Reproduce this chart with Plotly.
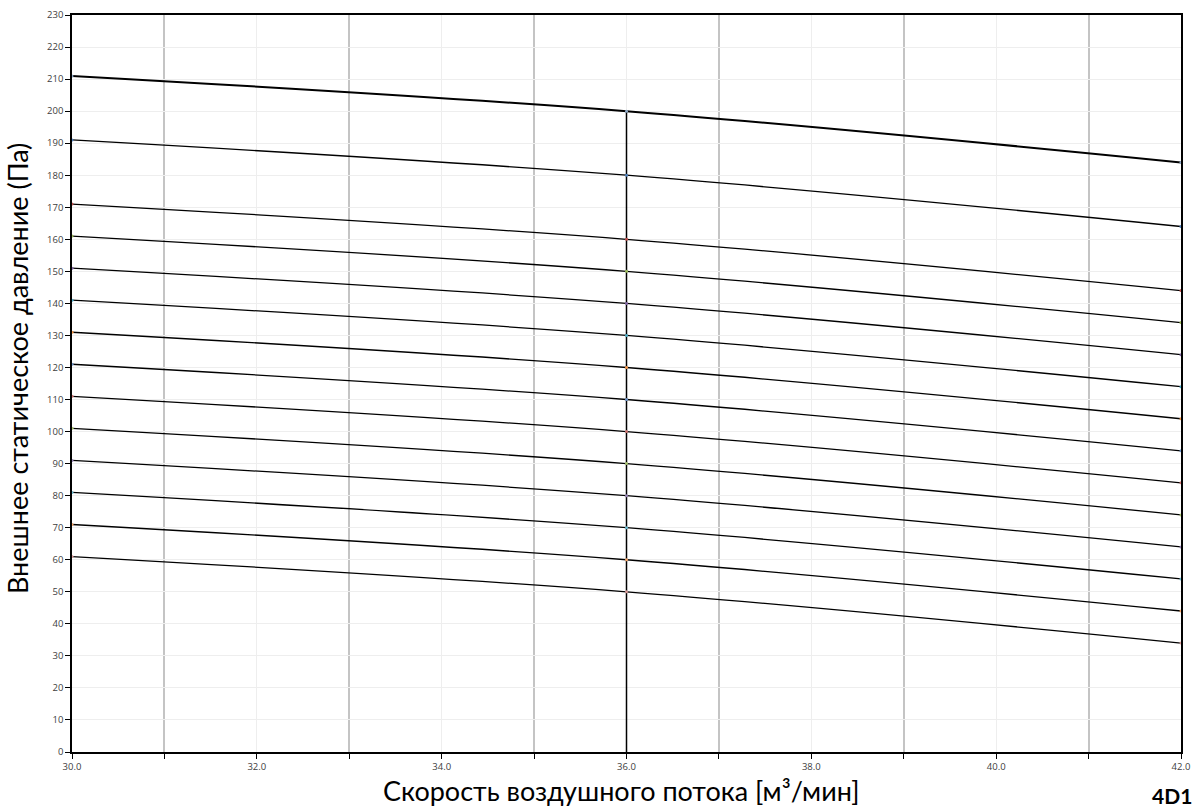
import plotly.graph_objects as go

# Data: each curve passes through points at x = 30, 36, 42
airflow = [30.0, 36.0, 42.0]
curves_at_30 = [211, 191, 171, 161, 151, 141, 131, 121, 111, 101, 91, 81, 71, 61]
curves_at_36 = [200, 180, 160, 150, 140, 130, 120, 110, 100, 90, 80, 70, 60, 50]
curves_at_42 = [184, 164, 144, 134, 124, 114, 104, 94, 84, 74, 64, 54, 44, 34]
marker_colors = ["#8EA9C8", "#4F81BD", "#C0504D", "#9BBB59", "#8064A2", "#4BACC6", "#F79646",
                 "#6F95C9", "#CD7371", "#A9C46F", "#9783B5", "#6CBCD2", "#F9A86B", "#D89A99"]
ref_x = [36.0, 36.0]
ref_y = [0, 200]

x_ticks = [30, 32, 34, 36, 38, 40, 42]
x_ticklabels = ["30.0", "32.0", "34.0", "36.0", "38.0", "40.0", "42.0"]
x_title = "Скорость воздушного потока [м³/мин]"
y_title = "Внешнее статическое давление (Па)"
corner_label = "<b>4D1</b>"

fig = go.Figure()

fig.add_trace(go.Scatter(x=ref_x, y=ref_y, mode="lines",
                         line=dict(color="black", width=1.5), showlegend=False, hoverinfo="skip"))

for i in range(len(curves_at_30)):
    ys = [curves_at_30[i], curves_at_36[i], curves_at_42[i]]
    fig.add_trace(go.Scatter(
        x=airflow, y=ys, mode="lines+markers",
        line=dict(color="black", width=2 if i == 0 else 1.3, shape="spline", smoothing=1),
        marker=dict(color=marker_colors[i], size=3),
        showlegend=False,
    ))

tick_font = dict(family="Open Sans, sans-serif", size=9.5, color="#404040")
title_font = dict(family="Lato, Noto Sans, sans-serif", size=27, color="black")

fig.update_layout(
    width=1194, height=812,
    margin=dict(l=72, r=13, t=15, b=60),
    plot_bgcolor="white", paper_bgcolor="white",
    xaxis=dict(
        range=[30, 42], tickvals=x_ticks, ticktext=x_ticklabels,
        ticks="outside", ticklen=5, tickcolor="black", tickfont=tick_font,
        showgrid=True, gridcolor="#eeeeee", gridwidth=1,
        minor=dict(dtick=2, tick0=31, ticks="outside", ticklen=5, tickcolor="black",
                   showgrid=True, gridcolor="#c4c4c4", gridwidth=1.5),
        showline=True, linecolor="black", linewidth=1.5, mirror=True,
        zeroline=False, automargin=False,
    ),
    yaxis=dict(
        range=[0, 230], dtick=10, tick0=0,
        ticks="outside", ticklen=5, tickcolor="black", tickfont=tick_font,
        showgrid=True, gridcolor="#eeeeee", gridwidth=1,
        showline=True, linecolor="black", linewidth=1.5, mirror=True,
        zeroline=False, automargin=False,
    ),
    annotations=[
        dict(text=x_title, xref="paper", yref="paper", x=0.495, y=-0.027,
             xanchor="center", yanchor="top", showarrow=False, font=title_font),
        dict(text=y_title, xref="paper", yref="paper", x=-0.066, y=0.52,
             xanchor="left", yanchor="middle", textangle=-90, showarrow=False, font=title_font),
        dict(text=corner_label, xref="paper", yref="paper", x=1.0115, y=-0.04,
             xanchor="right", yanchor="top", showarrow=False,
             font=dict(family="Lato, Noto Sans, sans-serif", size=21, color="black")),
    ],
)

fig.write_html("out.html", config={"displayModeBar": False},
               post_script="document.body.style.margin='0';document.body.style.overflow='hidden';")
